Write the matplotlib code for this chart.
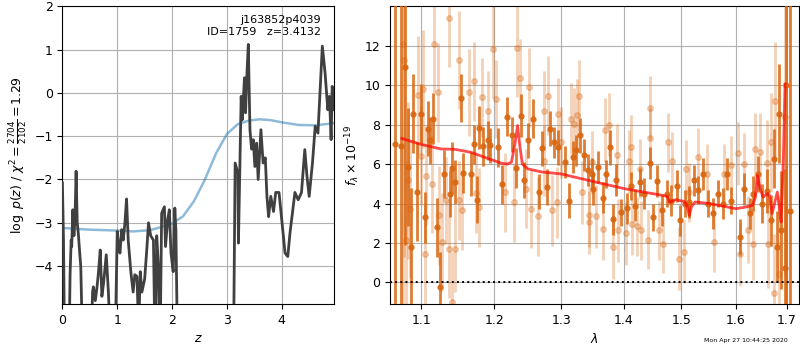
import matplotlib
matplotlib.use("Agg")
import matplotlib.pyplot as plt
from matplotlib.ticker import FixedLocator, FixedFormatter, NullLocator
import numpy as np

# left panel: log p(z)
z_grid = [0.00, 0.02, 0.04, 0.12, 0.14, 0.16, 0.17, 0.19, 0.21, 0.23, 0.25, 0.27, 0.29, 0.31,
          0.335, 0.37, 0.52, 0.55, 0.565, 0.60, 0.63, 0.656, 0.69, 0.72, 0.75, 0.80, 0.84,
          0.88, 0.96, 1.00, 1.03, 1.05, 1.08, 1.11, 1.14, 1.17, 1.20, 1.25, 1.29, 1.32, 1.36,
          1.39, 1.42, 1.45, 1.50, 1.54, 1.57, 1.61, 1.66, 1.69, 1.72, 1.75, 1.78, 1.81, 1.86,
          1.88, 1.92, 1.95, 1.98, 2.02, 2.05, 2.07, 2.10, 3.12, 3.15, 3.20, 3.21, 3.26, 3.28,
          3.32, 3.34, 3.36, 3.39, 3.42, 3.45, 3.48, 3.51, 3.54, 3.57, 3.62, 3.66, 3.70, 3.73,
          3.76, 3.80, 3.85, 3.89, 3.95, 4.00, 4.06, 4.11, 4.15, 4.24, 4.30, 4.36, 4.42, 4.46,
          4.50, 4.56, 4.61, 4.66, 4.74, 4.79, 4.84, 4.87, 4.90, 4.92, 4.95]
logpz = [-2.08, -3.4, -6.0, -6.0, -4.2, -3.4, -3.55, -2.7, -3.3, -2.9, -1.81, -3.0, -3.24, -3.6,
         -4.01, -6.0, -6.0, -4.6, -4.48, -4.8, -4.5, -4.17, -3.63, -4.7, -4.4, -3.74, -4.63,
         -6.0, -6.0, -3.2, -3.6, -3.7, -3.16, -3.4, -3.0, -2.45, -3.4, -4.16, -4.6, -4.2, -4.24,
         -5.5, -4.13, -4.6, -4.3, -3.6, -3.0, -3.3, -3.4, -6.0, -3.3, -4.0, -6.0, -2.78, -2.63,
         -3.55, -2.93, -2.7, -3.7, -4.13, -2.66, -3.2, -6.0, -6.0, -1.62, -1.85, -3.47, -0.08, -0.62,
         0.35, -0.46, 0.3, 1.12, -0.85, -1.3, -1.08, -1.7, -1.16, -2.0, -0.85, -1.62, -1.5, -2.4,
         -2.86, -2.39, -2.74, -2.3, -2.3, -2.93, -3.7, -3.78, -3.24, -2.3, -2.47, -2.3, -1.31, -1.93,
         -2.39, -1.62, -0.77, -0.93, 1.08, 0.46, -0.39, -0.08, -1.08, 0.15, -0.39]

z_smooth = [0.0, 0.5, 1.0, 1.3, 1.6, 1.8, 2.0, 2.2, 2.4, 2.6, 2.8, 3.0, 3.2, 3.4, 3.6, 3.8,
            4.0, 4.3, 4.6, 4.96]
chi2_curve = [-3.12, -3.16, -3.18, -3.2, -3.17, -3.1, -3.02, -2.85, -2.5, -2.0, -1.4, -0.95,
              -0.72, -0.64, -0.61, -0.63, -0.68, -0.74, -0.75, -0.70]

# right panel: spectrum, two grism orients
wave_a = [1.066, 1.0735, 1.0786, 1.083, 1.0865, 1.0895, 1.094, 1.100, 1.105, 1.1086, 1.112,
          1.1155, 1.121, 1.1256, 1.130, 1.138, 1.1415, 1.146, 1.154, 1.156, 1.1667, 1.171,
          1.1757, 1.179, 1.1836, 1.1918, 1.194, 1.206, 1.211, 1.2186, 1.2253, 1.232, 1.239,
          1.244, 1.249, 1.2568, 1.266, 1.2697, 1.278, 1.282, 1.288, 1.2944, 1.305, 1.312,
          1.3177, 1.323, 1.329, 1.3355, 1.3424, 1.348, 1.3505, 1.3585, 1.3656, 1.371, 1.3774,
          1.383, 1.388, 1.396, 1.4058, 1.4118, 1.4193, 1.427, 1.435, 1.4446, 1.4505, 1.4575,
          1.466, 1.474, 1.481, 1.4912, 1.498, 1.5056, 1.5135, 1.5217, 1.529, 1.5384, 1.5476,
          1.557, 1.566, 1.5759, 1.584, 1.5907, 1.608, 1.6155, 1.6267, 1.6341, 1.6434, 1.6516,
          1.660, 1.6683, 1.6744, 1.6806, 1.6838, 1.6888, 1.6963, 1.698, 1.7067]
flux_a = [7.0, 6.9, 10.9, 5.85, 1.8, 8.55, 4.6, 8.55, 3.3, 7.8, 7.2, 8.3, 2.8, -0.25, 5.5, 4.5,
          5.8, 5.1, 9.35, 5.55, 5.5, 7.0, 4.2, 7.85, 6.9, 7.2, 6.95, 6.85, 4.97, 8.4, 7.5, 5.8,
          8.45, 5.2, 7.2, 8.3, 4.6, 6.8, 4.85, 7.8, 7.1, 6.85, 6.1, 4.15, 6.35, 6.7, 7.45, 6.45,
          5.7, 5.5, 4.75, 5.85, 4.3, 5.5, 6.85, 3.2, 5.2, 3.55, 3.75, 4.9, 3.9, 5.1, 4.5, 6.05,
          3.3, 5.15, 3.65, 4.5, 4.15, 4.9, 3.15, 4.0, 4.07, 5.17, 4.7, 5.5, 4.0, 3.5, 4.5, 4.0,
          5.5, 4.15, 2.3, 4.75, 3.5, 4.5, 5.5, 4.0, 4.63, 3.15, 6.27, 1.8, 8.55, 2.65, 0.75,
          10.0, 3.6]
err_a = [20, 20, 9, 3.0, 3.0, 2.0, 2.5, 1.5, 1.3, 1.4, 1.2, 1.3, 1.5, 1.8, 1.2, 1.2, 1.3, 1.1,
         1.2, 1.0, 1.1, 1.0, 1.2, 1.1, 1.0, 1.0, 0.9, 1.0, 1.0, 1.0, 0.9, 1.0, 1.1, 0.9, 0.9,
         1.0, 0.9, 0.9, 0.9, 0.9, 0.8, 0.9, 0.8, 0.9, 0.8, 0.8, 0.9, 0.8, 0.8, 0.8, 0.8, 0.8,
         0.8, 0.7, 0.9, 0.8, 0.8, 0.7, 0.8, 0.7, 0.8, 0.7, 0.8, 0.8, 0.7, 0.8, 0.8, 0.7, 0.8,
         0.8, 0.8, 0.7, 0.8, 0.8, 0.7, 0.8, 0.7, 0.8, 0.7, 0.8, 0.8, 0.7, 0.9, 0.8, 0.8, 0.9,
         0.9, 1.0, 1.1, 1.3, 1.5, 1.8, 2.5, 3.0, 5.0, 25, 25]

wave_b = [1.0763, 1.0777, 1.0807, 1.083, 1.0851, 1.096, 1.1004, 1.1027, 1.105, 1.106, 1.114,
          1.1164, 1.1223, 1.1233, 1.1278, 1.1333, 1.137, 1.137, 1.1407, 1.146, 1.1507, 1.1507,
          1.1552, 1.1644, 1.171, 1.1744, 1.178, 1.1826, 1.1918, 1.1977, 1.202, 1.215, 1.2286,
          1.2335, 1.2376, 1.2465, 1.2515, 1.2535, 1.2647, 1.2727, 1.2733, 1.2798, 1.2862,
          1.2936, 1.2955, 1.2995, 1.315, 1.320, 1.324, 1.3284, 1.332, 1.343, 1.344, 1.348,
          1.355, 1.3656, 1.3694, 1.3763, 1.383, 1.389, 1.391, 1.4035, 1.409, 1.4128, 1.4145,
          1.422, 1.427, 1.4297, 1.4411, 1.4446, 1.4446, 1.4603, 1.468, 1.4762, 1.484, 1.4952,
          1.5044, 1.5074, 1.5135, 1.530, 1.546, 1.5595, 1.5785, 1.5907, 1.604, 1.609, 1.6155,
          1.623, 1.633, 1.6372, 1.6465, 1.660, 1.6637, 1.6683, 1.6744, 1.6762, 1.6838, 1.6963]
flux_b = [12.08, 11.27, 2.17, 5.17, 3.74, 9.5, 6.43, 9.8, 1.43, 5.42, 5.0, 12.1, 9.63, 3.4,
          2.05, 4.16, 13.4, 1.72, -0.98, 1.72, 11.27, 4.16, 3.65, 9.63, 10.2, 4.53, 3.82, 9.38,
          8.71, 11.83, 9.3, 4.58, 4.07, 11.9, 10.36, 4.75, 9.9, 3.74, 3.35, 6.18, 8.71, 9.47,
          3.65, 4.07, 8.54, 7.1, 8.3, 8.04, 8.5, 9.47, 4.58, 3.06, 3.4, 6.1, 3.35, 2.73, 7.73,
          8.0, 1.8, 6.44, 2.65, 2.5, 6.15, 6.89, 2.98, 2.85, 5.76, 2.65, 2.17, 8.85, 7.33, 2.65,
          1.97, 7.1, 6.15, 1.21, 1.55, 5.73, 4.58, 6.35, 5.5, 2.05, 5.5, 5.93, 6.55, 1.43, 5.98,
          2.68, 1.94, 6.78, 6.6, 6.05, 1.94, 7.1, -0.53, 9.18, 0.42, 8.4]
err_b = [20, 10, 4, 4, 3.5, 3, 2.5, 3, 2.5, 2.5, 2.5, 2.5, 2.5, 2.5, 2.5, 2.2, 2.5, 2.5, 2.5,
         2.2, 2.5, 2.0, 2.0, 2.2, 2.0, 2.0, 2.0, 2.0, 2.0, 2.5, 2.0, 2.0, 2.0, 2.5, 2.0, 2.0,
         2.0, 2.0, 2.0, 1.8, 2.0, 2.0, 1.8, 1.8, 1.8, 1.8, 1.8, 1.8, 1.8, 1.8, 1.6, 1.6, 1.6,
         1.6, 1.6, 1.6, 1.6, 1.6, 1.6, 1.6, 1.6, 1.6, 1.6, 1.6, 1.6, 1.5, 1.5, 1.5, 1.5, 1.6,
         1.5, 1.5, 1.5, 1.5, 1.5, 1.6, 1.6, 1.5, 1.5, 1.5, 1.5, 1.5, 1.5, 1.5, 1.6, 1.6, 1.6,
         1.7, 1.8, 1.8, 2.0, 2.2, 2.2, 2.5, 3, 3, 4, 8]

model_wave = [1.075, 1.10, 1.126, 1.145, 1.167, 1.19, 1.21, 1.219, 1.225, 1.230, 1.234, 1.237,
              1.241, 1.249, 1.27, 1.30, 1.35, 1.402, 1.45, 1.470, 1.476, 1.479, 1.49, 1.505,
              1.510, 1.514, 1.518, 1.525, 1.55, 1.58, 1.60, 1.615, 1.632, 1.638, 1.642, 1.647,
              1.653, 1.662, 1.666, 1.671, 1.6814, 1.685, 1.689, 1.6935, 1.697]
model_flux = [7.3, 7.0, 6.77, 6.75, 6.6, 6.3, 6.05, 6.0, 6.1, 7.0, 7.95, 7.0, 6.0, 5.76, 5.6,
              5.5, 5.12, 4.75, 4.5, 4.4, 4.33, 4.07, 4.2, 4.1, 3.9, 3.4, 3.85, 4.08, 4.0, 3.85,
              3.74, 3.8, 3.9, 4.3, 5.42, 4.8, 4.33, 4.5, 4.4, 3.5, 4.58, 3.9, 3.06, 6.18, 10.06]

lam_ticks = [1.1, 1.2, 1.3, 1.4, 1.5, 1.6, 1.7]

orange = '#d9660f'
fig = plt.figure(figsize=(8, 3.5), dpi=100)

ax1 = fig.add_axes([0.078, 0.131, 0.340, 0.851])
ax1.plot(z_smooth, chi2_curve, color='#1f77b4', alpha=0.5, lw=1.8, zorder=3)
ax1.plot(z_grid, logpz, color='0.25', lw=2, zorder=4)
ax1.set_xlim(0, 4.96)
ax1.set_ylim(-4.88, 2)
ax1.set_xticks([0, 1, 2, 3, 4])
ax1.set_yticks([-4, -3, -2, -1, 0, 1, 2])
ax1.grid(color='#b0b0b0', lw=0.8)
ax1.set_axisbelow(True)
ax1.set_xlabel(r'$z$', fontsize=9)
ax1.set_ylabel(r'$\log\ p(z)$ / $\chi^2=\frac{2704}{2102}=1.29$', fontsize=9)
ax1.tick_params(labelsize=9)
ax1.text(0.95, 0.97, 'j163852p4039\nID=1759   z=3.4132', transform=ax1.transAxes,
         ha='right', va='top', fontsize=8, zorder=5)

ax2 = fig.add_axes([0.4875, 0.131, 0.511, 0.851])
ax2.errorbar(wave_b, flux_b, yerr=err_b, fmt='o', color=orange, alpha=0.3, ms=4,
             elinewidth=2, capsize=0, zorder=2)
ax2.errorbar(wave_a, flux_a, yerr=err_a, fmt='o', color=orange, alpha=0.85, ms=3.5,
             elinewidth=2, capsize=0, zorder=3)
ax2.plot(model_wave, model_flux, color='r', alpha=0.7, lw=2, zorder=4)
ax2.axhline(0, color='k', ls=':', lw=1.4, zorder=5)
ax2.set_xscale('log')
ax2.set_xlim(1.06, 1.725)
ax2.set_ylim(-1.1, 14)
ax2.xaxis.set_major_locator(FixedLocator(lam_ticks))
ax2.xaxis.set_major_formatter(FixedFormatter([str(t) for t in lam_ticks]))
ax2.xaxis.set_minor_locator(NullLocator())
ax2.set_yticks([0, 2, 4, 6, 8, 10, 12])
ax2.grid(color='#b0b0b0', lw=0.8)
ax2.set_axisbelow(True)
ax2.set_xlabel(r'$\lambda$', fontsize=9)
ax2.set_ylabel(r'$f_\lambda\times10^{-19}$', fontsize=9, labelpad=2)
ax2.tick_params(labelsize=9)

fig.text(0.985, 0.02, 'Mon Apr 27 10:44:25 2020', ha='right', va='bottom', fontsize=4.5)

fig.savefig('out.png', dpi=100)
